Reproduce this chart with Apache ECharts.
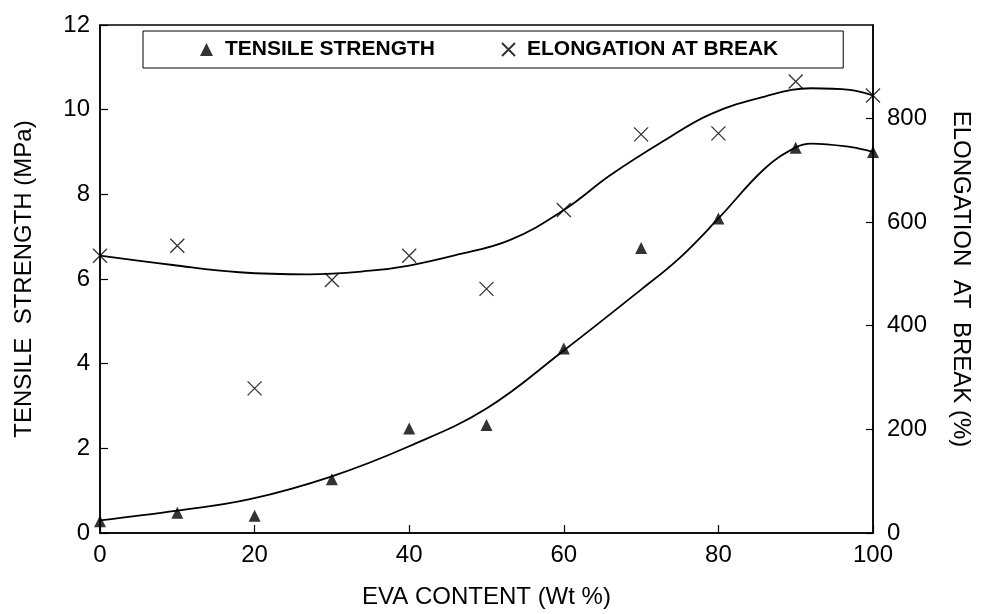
<!DOCTYPE html>
<html><head><meta charset="utf-8">
<script src="https://cdn.jsdelivr.net/npm/echarts@6/dist/echarts.min.js"></script>
<style>html,body{margin:0;padding:0;background:#fff}#c{width:984px;height:614px}</style>
</head><body><div id="c"></div>
<script>
// Measured data points
const evaContent = [0, 10, 20, 30, 40, 50, 60, 70, 80, 90, 100];
const tensileStrength = [0.28, 0.48, 0.41, 1.27, 2.47, 2.55, 4.36, 6.73, 7.43, 9.10, 9.00];
const elongationAtBreak = [535, 554, 279, 488, 535, 471, 623, 769, 771, 871, 844];
// Fitted curves
const tensileFitX = [0, 10, 19.4, 30, 40, 50, 60, 70, 75, 80, 86, 90, 92, 97, 100];
const tensileFitY = [0.30, 0.53, 0.80, 1.34, 2.05, 2.94, 4.31, 5.75, 6.5, 7.43, 8.61, 9.11, 9.2, 9.12, 9.0];
const elongFitX = [0, 9.4, 18, 27, 35, 40, 46, 53, 60, 66, 73, 79, 86, 92, 97, 100];
const elongFitY = [535, 517, 503, 499, 506, 516, 536, 565, 623, 690, 757, 808, 842, 858, 855, 844];
// Axis ticks
const xTicks = [0, 20, 40, 60, 80, 100];
const leftTicks = [0, 2, 4, 6, 8, 10, 12];
const rightTicks = [0, 200, 400, 600, 800];

const FONT = '"Liberation Sans", Arial, Helvetica, sans-serif';
const pair = (xs, ys) => xs.map((x, i) => [x, ys[i]]);
const XSYM = 'path://M0,0L10,10M10,0L0,10';

const chart = echarts.init(document.getElementById('c'), null, {renderer: 'canvas'});
chart.setOption({
  animation: false,
  backgroundColor: '#fff',
  textStyle: {fontFamily: FONT, color: '#000'},
  grid: {left: 100, right: 111, top: 25, bottom: 75, show: true, borderColor: '#000', borderWidth: 1.5, backgroundColor: 'transparent'},
  legend: {
    left: 143, top: 31,
    padding: [8, 65, 8, 57],
    itemGap: 66,
    itemWidth: 13, itemHeight: 13,
    borderColor: '#000', borderWidth: 1,
    textStyle: {fontFamily: FONT, fontSize: 21, fontWeight: 'bold', color: '#000', padding: [0, 0, 0, 7]},
    data: ['TENSILE STRENGTH', 'ELONGATION AT BREAK']
  },
  xAxis: {
    type: 'value', min: 0, max: 100, interval: 20,
    name: 'EVA CONTENT (Wt %)', nameLocation: 'middle', nameGap: 52,
    nameTextStyle: {fontFamily: FONT, fontSize: 24, color: '#000'},
    axisLine: {show: true, lineStyle: {color: '#000', width: 1.5}},
    axisTick: {show: true, inside: true, length: 8, lineStyle: {color: '#000', width: 1.2}},
    axisLabel: {fontFamily: FONT, fontSize: 24, color: '#000', margin: 10,
      formatter: v => xTicks.includes(v) ? String(v) : ''},
    splitLine: {show: false}
  },
  yAxis: [{
    type: 'value', min: 0, max: 12, interval: 2, position: 'left',
    name: 'TENSILE  STRENGTH (MPa)', nameLocation: 'middle', nameGap: 64, nameRotate: 90,
    nameTextStyle: {fontFamily: FONT, fontSize: 24, color: '#000'},
    axisLine: {show: true, lineStyle: {color: '#000', width: 1.5}},
    axisTick: {show: true, inside: true, length: 8, lineStyle: {color: '#000', width: 1.2}},
    axisLabel: {fontFamily: FONT, fontSize: 24, color: '#000', margin: 10,
      formatter: v => leftTicks.includes(v) ? String(v) : ''},
    splitLine: {show: false}
  }, {
    type: 'value', min: 0, max: 980, interval: 200, position: 'right',
    name: 'ELONGATION  AT  BREAK (%)', nameLocation: 'middle', nameGap: 76, nameRotate: -90,
    nameTextStyle: {fontFamily: FONT, fontSize: 24, color: '#000'},
    axisLine: {show: true, lineStyle: {color: '#000', width: 1.5}},
    axisTick: {show: true, inside: true, length: 7, lineStyle: {color: '#000', width: 1.2}},
    axisLabel: {fontFamily: FONT, fontSize: 24, color: '#000', margin: 14, showMaxLabel: false,
      formatter: v => rightTicks.includes(v) ? String(v) : ''},
    splitLine: {show: false}
  }],
  series: [{
    name: 'TENSILE STRENGTH', type: 'scatter', yAxisIndex: 0,
    symbol: 'triangle', symbolSize: 12,
    itemStyle: {color: '#000'},
    data: pair(evaContent, tensileStrength), z: 5
  }, {
    name: 'ELONGATION AT BREAK', type: 'scatter', yAxisIndex: 1,
    symbol: XSYM, symbolSize: 14,
    itemStyle: {color: 'transparent', borderColor: '#000', borderWidth: 1.3},
    data: pair(evaContent, elongationAtBreak), z: 5
  }, {
    name: 'tensileFit', type: 'line', yAxisIndex: 0, smooth: 0.4, showSymbol: false, symbol: 'none',
    lineStyle: {color: '#000', width: 1.8},
    data: pair(tensileFitX, tensileFitY), z: 3
  }, {
    name: 'elongFit', type: 'line', yAxisIndex: 1, smooth: 0.4, showSymbol: false, symbol: 'none',
    lineStyle: {color: '#000', width: 1.8},
    data: pair(elongFitX, elongFitY), z: 3
  }]
});
</script></body></html>
